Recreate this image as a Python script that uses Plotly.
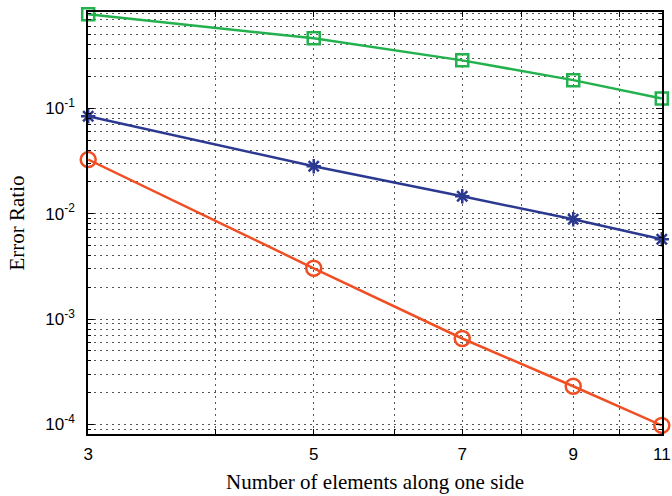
import numpy as np
import plotly.graph_objects as go

x_vals = [3, 5, 7, 9, 11]
green_vals = [0.78, 0.461, 0.285, 0.185, 0.124]
blue_vals = [0.0839, 0.0282, 0.0146, 0.00885, 0.00571]
red_vals = [0.0326, 0.00303, 0.000653, 0.000230, 0.0000977]

x_ticks = [3, 4, 5, 6, 7, 8, 9, 10, 11]
x_ticktext = ["3", "", "5", "", "7", "", "9", "", "11"]
y_ticks = [1e-4, 1e-3, 1e-2, 1e-1]
y_ticktext = ["10<sup>-4</sup>", "10<sup>-3</sup>", "10<sup>-2</sup>", "10<sup>-1</sup>"]
y_minor = [m * 10.0 ** e for e in range(-5, 0) for m in range(2, 10)]

GRID = "#555555"
DASH = "2px,4px"
EPS = 2e-4

fig = go.Figure()
fig.add_trace(go.Scatter(x=x_vals, y=green_vals, mode="lines+markers", cliponaxis=False,
                         line=dict(color="#22b14c", width=2.5),
                         marker=dict(symbol="square-open", size=12, color="#22b14c",
                                     line=dict(width=2.5, color="#22b14c"))))
fig.add_trace(go.Scatter(x=x_vals, y=blue_vals, mode="lines+markers", cliponaxis=False,
                         line=dict(color="#2b3990", width=2.5),
                         marker=dict(symbol="asterisk-open", size=12, color="#2b3990",
                                     line=dict(width=2.5, color="#2b3990"))))
fig.add_trace(go.Scatter(x=x_vals, y=red_vals, mode="lines+markers", cliponaxis=False,
                         line=dict(color="#f04e23", width=2.5),
                         marker=dict(symbol="circle-open", size=15, color="#f04e23",
                                     line=dict(width=2.5, color="#f04e23"))))

fig.update_layout(
    width=672, height=496,
    margin=dict(l=88, r=10, t=12, b=62, autoexpand=False),
    paper_bgcolor="white", plot_bgcolor="white",
    showlegend=False,
    font=dict(family="Liberation Sans, Arial", size=17, color="black"),
)
fig.update_xaxes(
    type="log", range=[np.log10(3) - EPS, np.log10(11) + EPS],
    tickvals=x_ticks, ticktext=x_ticktext,
    ticks="inside", ticklen=5, tickcolor="black", tickwidth=1,
    showline=True, linecolor="black", linewidth=1.5, mirror="allticks",
    showgrid=True, gridcolor=GRID, griddash=DASH, gridwidth=1,
    zeroline=False, automargin=False,
    ticklabelstandoff=4,
    tickfont=dict(family="Liberation Sans, Arial", size=17),
    title=dict(text="Number of elements along one side",
               font=dict(family="Liberation Serif, Times New Roman", size=21),
               standoff=11),
)
fig.update_yaxes(
    type="log", range=[np.log10(8.1e-5), np.log10(0.82)],
    tickvals=y_ticks, ticktext=y_ticktext,
    ticks="inside", ticklen=6, tickcolor="black", tickwidth=1,
    showline=True, linecolor="black", linewidth=1.5, mirror="allticks",
    showgrid=True, gridcolor=GRID, griddash=DASH, gridwidth=1,
    zeroline=False, automargin=False,
    ticklabelstandoff=8,
    minor=dict(tickvals=y_minor, ticks="inside", ticklen=3, tickcolor="black",
               showgrid=True, gridcolor=GRID, griddash=DASH, gridwidth=1),
    tickfont=dict(family="Liberation Sans, Arial", size=17),
    title=dict(text="Error Ratio",
               font=dict(family="Liberation Serif, Times New Roman", size=21),
               standoff=15),
)
fig.write_html(
    "out.html",
    config={"displayModeBar": False},
    post_script=("document.body.style.margin='0';"
                 "document.body.style.overflow='hidden';"
                 "document.documentElement.style.overflow='hidden';"),
)
